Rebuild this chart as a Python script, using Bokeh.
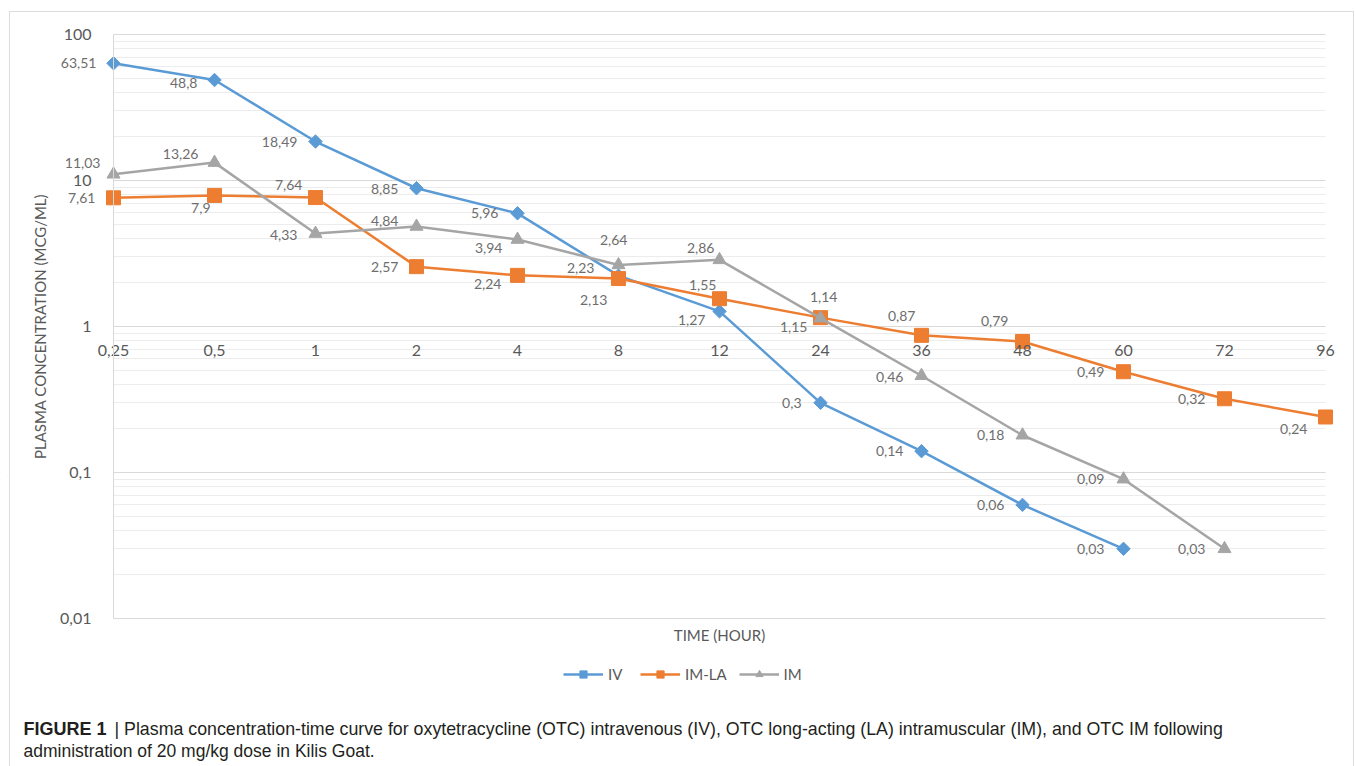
import math
from bokeh.plotting import figure
from bokeh.models import (Range1d, FixedTicker, ColumnDataSource, LabelSet, Label,
                          Legend, LegendItem, BoxAnnotation)
from bokeh.core.properties import value
from bokeh.embed import file_html
from bokeh.resources import INLINE

# ---------------- data ----------------
hours = ["0,25", "0,5", "1", "2", "4", "8", "12", "24", "36", "48", "60", "72", "96"]
iv = [63.51, 48.8, 18.49, 8.85, 5.96, 2.23, 1.27, 0.3, 0.14, 0.06, 0.03, None, None]
im_la = [7.61, 7.9, 7.64, 2.57, 2.24, 2.13, 1.55, 1.15, 0.87, 0.79, 0.49, 0.32, 0.24]
im = [11.03, 13.26, 4.33, 4.84, 3.94, 2.64, 2.86, 1.14, 0.46, 0.18, 0.09, 0.03, None]

y_major = [0.01, 0.1, 1, 10, 100]
y_major_labels = ["0,01", "0,1", "1", "10", "100"]

# data-label placement (screen px, right-aligned text; dy positive = down)
iv_dx = [-17, -17, -18, -18, -19, -24, -14, -19, -18, -18, -19]
iv_dy = [0, 3, 0, 1, 0, -8, 9, 0, 0, 0, 0]
la_dx = [-18, -4, -13, -18, -16, -11, -3, -13, -6, -14, -19, -19, -18]
la_dy = [0, 13, -13, 0, 9, 21, -14, 9, -19, -20, 0, 0, 12]
im_dx = [-13, -16, -18, -18, -15, 9, -5, 17, -18, -18, -19, -19]
im_dy = [-11, -9, 1, -6, 8, -25, -12, -21, 1, 0, 0, 0]

BLUE, ORANGE, GRAY = "#5b9bd5", "#ed7d31", "#a5a5a5"
TXT = "#595959"
LBL = "#6e6e6e"
FONT = "Lato"
CAPFONT = "Liberation Sans"
CAP = "#231f20"

W, H = 1355, 766
# layout anchors (canvas px): x index 0 at 113, 101 px per category; y=1 at 326, 146 px/decade
X0, DX, Y1, DY = 113.0, 101.0, 326.0, 146.0


def px_x(px):
    return (px - X0) / DX


def px_y(py):
    return 10 ** ((Y1 - py) / DY)


p = figure(width=W, height=H, output_backend="svg", toolbar_location=None,
           y_axis_type="log",
           x_range=Range1d(px_x(0), px_x(W)), y_range=Range1d(px_y(H), px_y(0)),
           min_border_left=0, min_border_right=0, min_border_top=0, min_border_bottom=0)
p.outline_line_color = None
p.background_fill_color = "white"
p.border_fill_color = "white"

# y axis (log), drawn at x = first category
minor = [m * 10.0 ** k for k in range(-2, 2) for m in range(2, 10)]
yt = FixedTicker(ticks=y_major, minor_ticks=minor)
p.yaxis.ticker = yt
p.ygrid.ticker = yt
p.yaxis.fixed_location = 0
p.yaxis.bounds = (y_major[0], y_major[-1])
p.yaxis.major_label_overrides = {v: s for v, s in zip(y_major, y_major_labels)}
p.yaxis.axis_line_color = "#d9d9d9"
p.yaxis.major_tick_line_color = None
p.yaxis.minor_tick_line_color = None
p.yaxis.major_label_standoff = 16
p.yaxis.major_label_text_font = FONT
p.yaxis.major_label_text_font_size = "16px"
p.yaxis.major_label_text_color = TXT
p.yaxis.axis_label = "PLASMA CONCENTRATION (MCG/ML)"
p.yaxis.axis_label_text_font = FONT
p.yaxis.axis_label_text_font_size = "15px"
p.yaxis.axis_label_text_font_style = "normal"
p.yaxis.axis_label_text_color = TXT
p.yaxis.axis_label_standoff = 8
p.ygrid.grid_line_color = "#d9d9d9"
p.ygrid.minor_grid_line_color = "#ececec"
p.xgrid.visible = False

# x axis: categories, crossing at y = 1
idx = list(range(len(hours)))
p.xaxis.ticker = FixedTicker(ticks=idx)
p.xaxis.major_label_overrides = {i: h for i, h in zip(idx, hours)}
p.xaxis.fixed_location = 1
p.xaxis.axis_line_color = None
p.xaxis.major_tick_line_color = None
p.xaxis.minor_tick_line_color = None
p.xaxis.major_label_standoff = 12
p.xaxis.major_label_text_font = FONT
p.xaxis.major_label_text_font_size = "16px"
p.xaxis.major_label_text_color = TXT

# keep grid lines within the category span
p.add_layout(BoxAnnotation(right=idx[0], fill_color="white", fill_alpha=1, line_alpha=0, level="underlay"))
p.add_layout(BoxAnnotation(left=idx[-1], fill_color="white", fill_alpha=1, line_alpha=0, level="underlay"))


def nan(v):
    return float("nan") if v is None else v


def series(vals, color, marker, size, angle, dx, dy):
    ys = [nan(v) for v in vals]
    ln = p.line(idx, ys, line_color=color, line_width=2.5)
    sc = p.scatter(idx, ys, marker=marker, size=size, angle=angle,
                   fill_color=color, line_color=color)
    xs_ok = [i for i, v in zip(idx, vals) if v is not None]
    ys_ok = [v for v in vals if v is not None]
    src = ColumnDataSource(dict(
        x=xs_ok, y=ys_ok,
        t=[str(v).replace(".", ",") for v in ys_ok],
        dx=dx, dy=[-d for d in dy]))
    p.add_layout(LabelSet(x="x", y="y", text="t", source=src, x_offset="dx", y_offset="dy",
                          text_align="right", text_baseline="middle",
                          text_font=value(FONT), text_font_size=value("14px"),
                          text_color=value(LBL)))
    return ln, sc


iv_r = series(iv, BLUE, "square", 9.5, math.pi / 4, iv_dx, iv_dy)
la_r = series(im_la, ORANGE, "square", 14, 0, la_dx, la_dy)
im_r = series(im, GRAY, "triangle", 13, 0, im_dx, im_dy)

legend = Legend(items=[LegendItem(label="IV", renderers=list(iv_r)),
                       LegendItem(label="IM-LA", renderers=list(la_r)),
                       LegendItem(label="IM", renderers=list(im_r))],
                orientation="horizontal", location=(563, H - 683),
                glyph_width=40, glyph_height=18, label_standoff=5, spacing=12,
                padding=0, margin=0, border_line_color=None, background_fill_alpha=0,
                label_text_font=FONT, label_text_font_size="15px", label_text_color=TXT)
p.add_layout(legend)

p.add_layout(Label(x=(idx[0] + idx[-1]) / 2, y=px_y(634), text="TIME (HOUR)",
                   text_align="center", text_baseline="middle",
                   text_font=FONT, text_font_size="15px", text_color=TXT))

# caption
p.add_layout(Label(x=px_x(23), y=px_y(728), text="FIGURE 1",
                   text_baseline="middle", text_font=CAPFONT, text_font_style="bold",
                   text_font_size="18px", text_color=CAP))
p.add_layout(Label(x=px_x(114), y=px_y(728),
                   text="| Plasma concentration-time curve for oxytetracycline (OTC) intravenous (IV), OTC long-acting (LA) intramuscular (IM), and OTC IM following",
                   text_baseline="middle", text_font=CAPFONT,
                   text_font_size="17.8px", text_color=CAP))
p.add_layout(Label(x=px_x(23), y=px_y(750),
                   text="administration of 20 mg/kg dose in Kilis Goat.",
                   text_baseline="middle", text_font=CAPFONT,
                   text_font_size="17.5px", text_color=CAP))

# outer frame of the figure panel
p.add_layout(BoxAnnotation(left=px_x(9), right=px_x(1353), top=px_y(11), bottom=px_y(800),
                           fill_alpha=0, line_color="#8a8a8a", line_width=1))

open("out.html", "w").write(file_html(p, INLINE))
